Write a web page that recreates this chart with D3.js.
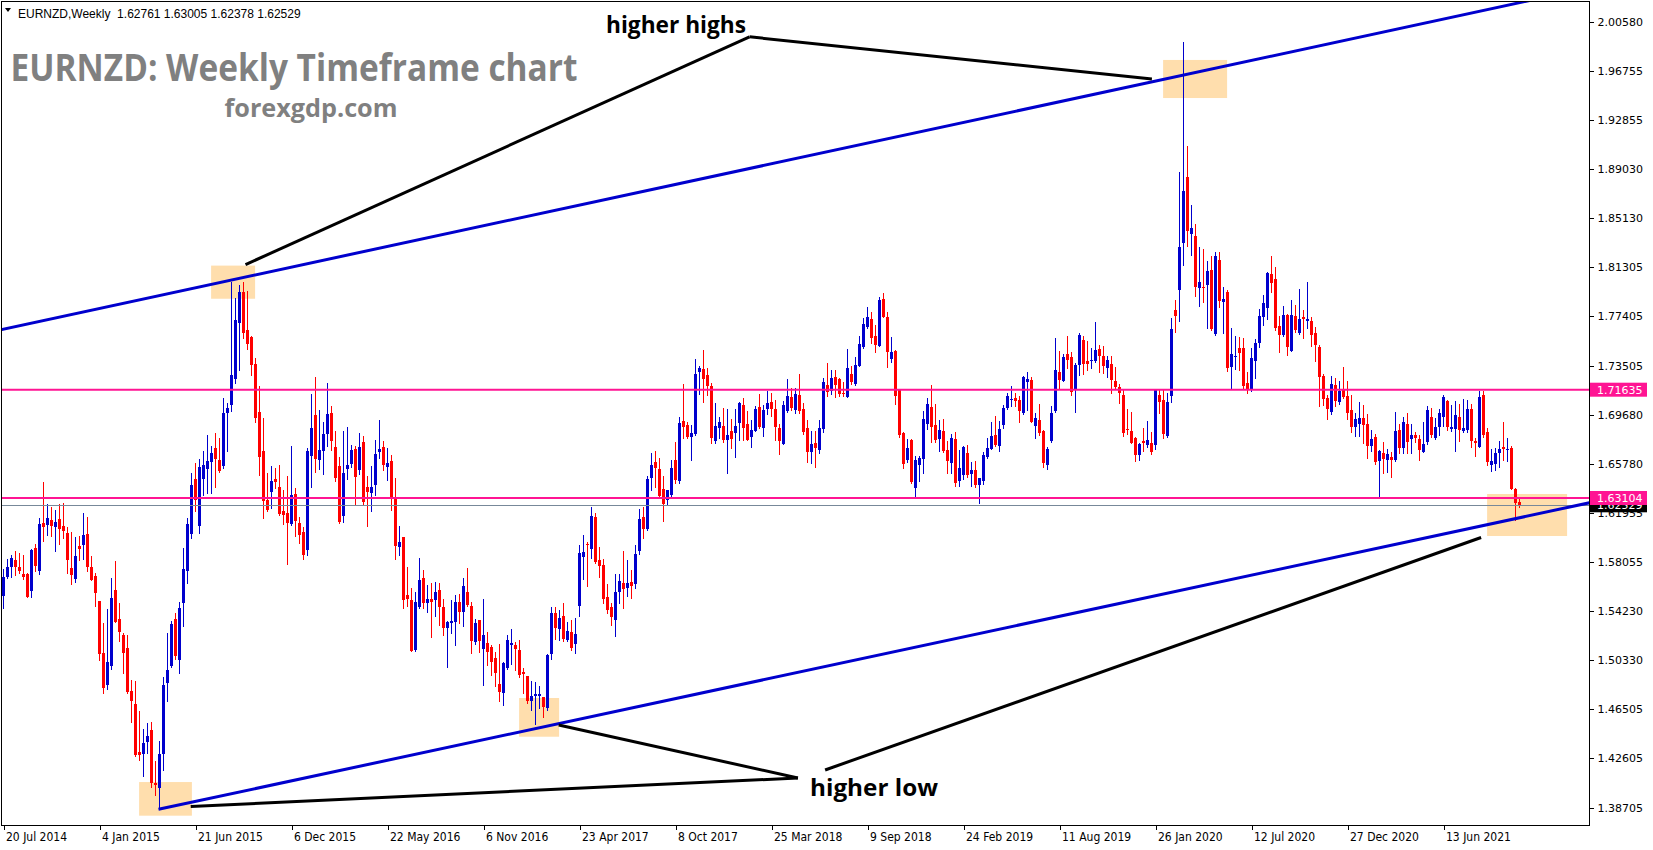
<!DOCTYPE html>
<html><head><meta charset="utf-8">
<script src="https://cdn.jsdelivr.net/npm/d3@7"></script>
<style>html,body{margin:0;padding:0;background:#fff;overflow:hidden}</style>
</head><body>
<svg id="chart" width="1653" height="850"></svg>
<script>
// ---------------- DATA ----------------
const symbolName = "EURNZD,Weekly";
const startDate = "2014-07-20";
const openP = [
1.5533,1.5691,1.5770,1.5822,1.5767,1.5712,1.5712,1.5580,1.5914,1.5738,
1.6116,1.6100,1.6137,1.6079,1.6142,1.6090,1.6037,1.5759,1.5672,1.5932,
1.5940,1.6027,1.5767,1.5696,1.5499,1.5089,1.4837,1.4987,1.5586,1.5357,
1.5234,1.5129,1.4790,1.4688,1.4310,1.4294,1.4388,1.4483,1.4068,1.4029,
1.4294,1.4856,1.4987,1.5354,1.5029,1.5486,1.5738,1.6026,1.6457,1.6084,
1.6460,1.6538,1.6596,1.6704,1.6607,1.6557,1.6982,1.7043,1.7250,1.7691,
1.7933,1.7633,1.7578,1.7366,1.6987,1.6680,1.6294,1.6360,1.6460,1.6397,
1.6208,1.6189,1.6105,1.6342,1.6111,1.6042,1.5900,1.6641,1.6964,1.6609,
1.6680,1.6817,1.6980,1.6712,1.6562,1.6171,1.6541,1.6581,1.6699,1.6536,
1.6751,1.6397,1.6352,1.6415,1.6675,1.6712,1.6557,1.6602,1.6308,1.5927,
1.6003,1.5546,1.5507,1.5113,1.5454,1.5680,1.5483,1.5515,1.5510,1.5586,
1.5452,1.5286,1.5326,1.5334,1.5491,1.5412,1.5570,1.5462,1.5176,1.5349,
1.5121,1.5168,1.5137,1.5050,1.4845,1.4774,1.4971,1.5152,1.5152,1.5113,
1.4940,1.4908,1.4714,1.4750,1.4750,1.4743,1.4653,1.5081,1.5402,1.5281,
1.5378,1.5192,1.5252,1.5155,1.5454,1.5848,1.5948,1.5908,1.6163,1.5822,
1.5782,1.5528,1.5449,1.5349,1.5570,1.5641,1.5601,1.5649,1.5633,1.5893,
1.6158,1.6066,1.6470,1.6594,1.6539,1.6381,1.6294,1.6334,1.6610,1.6447,
1.6919,1.6886,1.6794,1.6818,1.7303,1.7327,1.7280,1.7193,1.6762,1.6865,
1.6878,1.6770,1.6839,1.6825,1.6904,1.7043,1.6894,1.6794,1.6841,1.7028,
1.6865,1.7012,1.7067,1.7012,1.6862,1.6739,1.6996,1.7106,1.7004,1.7122,
1.7012,1.6862,1.6676,1.6747,1.6692,1.6857,1.7201,1.7154,1.7264,1.7248,
1.7138,1.7109,1.7288,1.7209,1.7353,1.7500,1.7658,1.7721,1.7587,1.7511,
1.7878,1.7739,1.7406,1.7471,1.7162,1.6825,1.6610,1.6770,1.6392,1.6571,
1.6621,1.6894,1.7028,1.6886,1.6776,1.6839,1.6689,1.6589,1.6776,1.6445,
1.6495,1.6665,1.6500,1.6531,1.6416,1.6445,1.6636,1.6699,1.6807,1.6723,
1.6886,1.7020,1.7088,1.7101,1.7083,1.6983,1.7227,1.7240,1.6880,1.6925,
1.6838,1.6565,1.6754,1.6996,1.7303,1.7232,1.7445,1.7421,1.7161,1.7356,
1.7555,1.7390,1.7390,1.7390,1.7484,1.7429,1.7337,1.7366,1.7232,1.7185,
1.7122,1.6857,1.6838,1.6786,1.6652,1.6760,1.6731,1.6741,1.6731,1.7122,
1.7082,1.6799,1.7114,1.7791,1.7949,1.8322,1.8839,1.8390,1.8374,1.7964,
1.7975,1.7988,1.8106,1.7602,1.8185,1.7857,1.7933,1.7345,1.7424,1.7492,
1.7492,1.7216,1.7161,1.7392,1.7534,1.7739,1.7810,1.8075,1.8035,1.7665,
1.7594,1.7752,1.7471,1.7744,1.7613,1.7736,1.7707,1.7707,1.7610,1.7500,
1.7271,1.7098,1.6990,1.7200,1.7069,1.7169,1.7116,1.7003,1.6872,1.6896,
1.6940,1.6894,1.6720,1.6794,1.6597,1.6665,1.6610,1.6631,1.6610,1.6846,
1.6705,1.6894,1.6775,1.6804,1.6773,1.6676,1.6754,1.6949,1.6786,1.6870,
1.6951,1.7075,1.6854,1.6854,1.6949,1.6839,1.6846,1.7014,1.6762,1.6715,
1.7122,1.6831,1.6573,1.6581,1.6665,1.6712,1.6694,1.6707,1.6384,1.62761
];
const highP = [
1.5751,1.5827,1.5861,1.5893,1.5875,1.5861,1.5720,1.5909,1.5948,1.6150,
1.6434,1.6263,1.6237,1.6216,1.6263,1.6268,1.6085,1.6043,1.6003,1.6008,
1.6195,1.6161,1.5854,1.5722,1.5499,1.5323,1.5439,1.5680,1.5814,1.5483,
1.5244,1.5234,1.4874,1.4869,1.4633,1.4491,1.4541,1.4543,1.4239,1.4396,
1.4900,1.5250,1.5344,1.5407,1.5493,1.5919,1.6155,1.6510,1.6588,1.6615,
1.6680,1.6809,1.6720,1.6822,1.6785,1.7098,1.7061,1.8014,1.7888,1.7990,
1.8009,1.7941,1.7589,1.7413,1.7192,1.6943,1.6510,1.6565,1.6546,1.6570,
1.6373,1.6483,1.6720,1.6389,1.6160,1.6082,1.6704,1.7129,1.7263,1.7003,
1.6909,1.7216,1.7035,1.6838,1.6630,1.6838,1.6870,1.6728,1.6720,1.6820,
1.6799,1.6484,1.6562,1.6767,1.6925,1.6759,1.6707,1.6649,1.6465,1.6090,
1.6003,1.5767,1.5601,1.5570,1.5840,1.5743,1.5625,1.5641,1.5649,1.5641,
1.5515,1.5344,1.5507,1.5546,1.5554,1.5680,1.5759,1.5491,1.5357,1.5349,
1.5515,1.5255,1.5152,1.5100,1.5160,1.5019,1.5231,1.5278,1.5176,1.5192,
1.4969,1.4908,1.4869,1.4863,1.4829,1.4743,1.5084,1.5449,1.5449,1.5428,
1.5483,1.5333,1.5349,1.5365,1.5940,1.6019,1.5966,1.6237,1.6190,1.5922,
1.5830,1.5633,1.5481,1.5712,1.5712,1.5893,1.5822,1.5743,1.5940,1.6224,
1.6239,1.6483,1.6665,1.6680,1.6623,1.6483,1.6373,1.6610,1.6751,1.6951,
1.7211,1.6912,1.6886,1.7406,1.7351,1.7477,1.7332,1.7214,1.7059,1.6949,
1.7020,1.7012,1.6933,1.7012,1.7067,1.7101,1.6996,1.6925,1.7038,1.7130,
1.7043,1.7154,1.7138,1.7083,1.6894,1.7075,1.7248,1.7177,1.7177,1.7288,
1.7059,1.6925,1.6841,1.6841,1.6925,1.7256,1.7374,1.7319,1.7319,1.7256,
1.7225,1.7484,1.7351,1.7421,1.7587,1.7726,1.7818,1.7776,1.7673,1.7897,
1.7926,1.7776,1.7579,1.7477,1.7162,1.6833,1.6775,1.6775,1.6642,1.6642,
1.6999,1.7101,1.7201,1.7051,1.6928,1.6933,1.6762,1.6815,1.6831,1.6689,
1.6723,1.6728,1.6597,1.6602,1.6468,1.6676,1.6786,1.6909,1.6959,1.6917,
1.7043,1.7138,1.7196,1.7141,1.7114,1.7272,1.7306,1.7266,1.6977,1.7051,
1.6846,1.6715,1.7035,1.7571,1.7468,1.7445,1.7587,1.7461,1.7371,1.7610,
1.7587,1.7547,1.7492,1.7697,1.7513,1.7508,1.7426,1.7429,1.7342,1.7209,
1.7161,1.7014,1.6991,1.6794,1.6746,1.6865,1.6920,1.6833,1.7161,1.7161,
1.7161,1.7140,1.7728,1.7870,1.8878,1.9902,1.9083,1.8619,1.8469,1.8287,
1.8272,1.8177,1.8216,1.8248,1.8248,1.7972,1.7949,1.7649,1.7586,1.7578,
1.7571,1.7303,1.7492,1.7563,1.7799,1.7909,1.8090,1.8216,1.8130,1.7744,
1.7823,1.7762,1.7870,1.7830,1.7957,1.7791,1.8012,1.7736,1.7657,1.7515,
1.7287,1.7122,1.7271,1.7255,1.7232,1.7342,1.7232,1.7122,1.6980,1.7066,
1.7043,1.6970,1.6846,1.6812,1.6689,1.6752,1.6697,1.6670,1.6988,1.6894,
1.6949,1.6978,1.6891,1.6831,1.6807,1.6907,1.7033,1.7020,1.6944,1.7009,
1.7119,1.7083,1.7043,1.7075,1.7051,1.7091,1.7083,1.7051,1.6783,1.7154,
1.7154,1.6862,1.6699,1.6705,1.6762,1.6909,1.6783,1.6720,1.6390,1.63005
];
const lowP = [
1.5447,1.5683,1.5691,1.5704,1.5722,1.5675,1.5530,1.5533,1.5738,1.5712,
1.5974,1.6022,1.6014,1.5893,1.5948,1.5998,1.5722,1.5633,1.5651,1.5825,
1.5827,1.5735,1.5665,1.5460,1.5034,1.4777,1.4806,1.4963,1.5334,1.5184,
1.4932,1.4777,1.4546,1.4278,1.4247,1.4121,1.4299,1.4037,1.3971,1.3874,
1.4168,1.4714,1.4982,1.5039,1.4929,1.5304,1.5643,1.5998,1.6210,1.6032,
1.6336,1.6352,1.6352,1.6399,1.6515,1.6549,1.6683,1.6998,1.7219,1.7321,
1.7573,1.7486,1.7282,1.6906,1.6494,1.6152,1.6210,1.6234,1.6386,1.6176,
1.6105,1.5790,1.6097,1.6013,1.5958,1.5832,1.5861,1.6399,1.6518,1.6536,
1.6502,1.6722,1.6691,1.6447,1.6111,1.6124,1.6463,1.6557,1.6255,1.6502,
1.6255,1.6090,1.6211,1.6334,1.6628,1.6534,1.6452,1.6216,1.5830,1.5861,
1.5444,1.5462,1.5105,1.5105,1.5447,1.5441,1.5415,1.5215,1.5383,1.5310,
1.5231,1.4981,1.5247,1.5152,1.5326,1.5302,1.5462,1.5089,1.5160,1.5097,
1.4837,1.4994,1.4916,1.4829,1.4711,1.4680,1.4963,1.5003,1.4955,1.4903,
1.4772,1.4693,1.4640,1.4530,1.4656,1.4588,1.4640,1.5042,1.5202,1.5192,
1.5184,1.5186,1.5113,1.5092,1.5381,1.5672,1.5620,1.5835,1.5796,1.5688,
1.5481,1.5402,1.5310,1.5223,1.5486,1.5446,1.5538,1.5525,1.5601,1.5869,
1.5993,1.6058,1.6373,1.6397,1.6321,1.6132,1.6263,1.6308,1.6426,1.6431,
1.6785,1.6783,1.6610,1.6810,1.7127,1.7070,1.7122,1.6747,1.6741,1.6781,
1.6755,1.6510,1.6707,1.6636,1.6770,1.6768,1.6770,1.6715,1.6835,1.6862,
1.6802,1.6972,1.6957,1.6768,1.6660,1.6735,1.6988,1.7004,1.6983,1.6983,
1.6815,1.6597,1.6589,1.6558,1.6668,1.6833,1.7114,1.7130,1.7109,1.7114,
1.7114,1.7105,1.7209,1.7201,1.7351,1.7492,1.7650,1.7529,1.7463,1.7508,
1.7739,1.7345,1.7385,1.7054,1.6794,1.6550,1.6597,1.6432,1.6321,1.6445,
1.6510,1.6854,1.6755,1.6752,1.6678,1.6676,1.6510,1.6510,1.6405,1.6408,
1.6458,1.6479,1.6408,1.6400,1.6274,1.6424,1.6628,1.6697,1.6720,1.6684,
1.6862,1.7012,1.7035,1.7035,1.6907,1.6975,1.7004,1.6907,1.6786,1.6807,
1.6552,1.6536,1.6754,1.6985,1.7177,1.7230,1.7337,1.7125,1.6988,1.7282,
1.7290,1.7319,1.7335,1.7385,1.7303,1.7293,1.7266,1.7140,1.7177,1.7061,
1.6801,1.6817,1.6746,1.6605,1.6610,1.6683,1.6715,1.6657,1.6694,1.6977,
1.6781,1.6794,1.7069,1.7621,1.7707,1.8146,1.8295,1.8225,1.7904,1.7825,
1.7857,1.7652,1.7634,1.7594,1.7817,1.7613,1.7313,1.7179,1.7326,1.7321,
1.7179,1.7140,1.7155,1.7258,1.7502,1.7673,1.7720,1.7933,1.7636,1.7463,
1.7589,1.7439,1.7465,1.7615,1.7605,1.7573,1.7652,1.7510,1.7392,1.7037,
1.7045,1.6935,1.6975,1.7037,1.7051,1.7101,1.6935,1.6833,1.6801,1.6801,
1.6746,1.6628,1.6684,1.6579,1.6319,1.6510,1.6516,1.6479,1.6605,1.6663,
1.6663,1.6663,1.6668,1.6754,1.6610,1.6673,1.6736,1.6794,1.6775,1.6807,
1.6878,1.6846,1.6841,1.6684,1.6762,1.6831,1.6831,1.6712,1.6642,1.6710,
1.6791,1.6573,1.6526,1.6531,1.6555,1.6610,1.6605,1.6384,1.6137,1.62378
];
const closeP = [
1.5686,1.5767,1.5838,1.5770,1.5738,1.5688,1.5533,1.5901,1.5770,1.6106,
1.6085,1.6153,1.6093,1.6121,1.6064,1.6051,1.5822,1.5707,1.5854,1.5909,
1.6019,1.5770,1.5665,1.5565,1.5084,1.4816,1.5019,1.5523,1.5334,1.5252,
1.5092,1.4782,1.4711,1.4283,1.4286,1.4378,1.4436,1.4063,1.4050,1.4294,
1.4837,1.4956,1.5318,1.5060,1.5441,1.5751,1.6105,1.6412,1.6289,1.6552,
1.6567,1.6601,1.6667,1.6617,1.6520,1.6977,1.7019,1.7279,1.7712,1.7933,
1.7612,1.7523,1.7360,1.6943,1.6633,1.6289,1.6215,1.6444,1.6436,1.6184,
1.6179,1.6108,1.6334,1.6132,1.6013,1.5861,1.6678,1.6861,1.6620,1.6688,
1.6814,1.6972,1.6762,1.6470,1.6124,1.6510,1.6573,1.6688,1.6478,1.6715,
1.6281,1.6358,1.6397,1.6657,1.6696,1.6570,1.6589,1.6313,1.5932,1.5964,
1.5507,1.5515,1.5105,1.5491,1.5664,1.5483,1.5515,1.5491,1.5570,1.5452,
1.5286,1.5334,1.5341,1.5491,1.5412,1.5617,1.5470,1.5184,1.5326,1.5184,
1.5231,1.5100,1.5019,1.4932,1.4782,1.5011,1.5192,1.5168,1.5121,1.4916,
1.4924,1.4714,1.4750,1.4766,1.4766,1.4667,1.5073,1.5402,1.5286,1.5365,
1.5200,1.5260,1.5126,1.5236,1.5874,1.5885,1.5937,1.6168,1.5809,1.5775,
1.5515,1.5428,1.5370,1.5570,1.5656,1.5593,1.5641,1.5617,1.5869,1.6145,
1.6066,1.6460,1.6570,1.6546,1.6326,1.6263,1.6373,1.6544,1.6452,1.6904,
1.6872,1.6794,1.6823,1.7288,1.7335,1.7248,1.7193,1.6786,1.6878,1.6909,
1.6770,1.6807,1.6778,1.6878,1.7059,1.6865,1.6770,1.6846,1.7012,1.6873,
1.7004,1.7059,1.7015,1.6873,1.6762,1.7043,1.7114,1.7022,1.7130,1.6996,
1.6831,1.6676,1.6739,1.6707,1.6862,1.7225,1.7148,1.7256,1.7201,1.7130,
1.7130,1.7335,1.7225,1.7358,1.7524,1.7681,1.7737,1.7574,1.7516,1.7870,
1.7739,1.7461,1.7463,1.7117,1.6807,1.6581,1.6705,1.6437,1.6613,1.6626,
1.6933,1.7049,1.6873,1.6768,1.6846,1.6681,1.6602,1.6783,1.6432,1.6547,
1.6715,1.6492,1.6531,1.6416,1.6468,1.6650,1.6707,1.6802,1.6726,1.6854,
1.7020,1.7117,1.7093,1.7075,1.6999,1.7264,1.7248,1.6912,1.6943,1.6820,
1.6583,1.6694,1.6977,1.7319,1.7240,1.7421,1.7398,1.7143,1.7358,1.7594,
1.7369,1.7369,1.7398,1.7476,1.7429,1.7350,1.7398,1.7240,1.7185,1.7135,
1.6825,1.6849,1.6746,1.6652,1.6736,1.6746,1.6767,1.6668,1.7161,1.7069,
1.6815,1.7067,1.7642,1.7747,1.8288,1.8729,1.8414,1.8437,1.7975,1.8012,
1.7967,1.8098,1.7641,1.8216,1.7862,1.7878,1.7334,1.7445,1.7429,1.7455,
1.7192,1.7164,1.7413,1.7531,1.7744,1.7846,1.8083,1.8006,1.7652,1.7594,
1.7752,1.7502,1.7752,1.7634,1.7720,1.7720,1.7720,1.7597,1.7518,1.7266,
1.7093,1.7014,1.7208,1.7077,1.7156,1.7108,1.6982,1.6872,1.6935,1.6940,
1.6888,1.6720,1.6775,1.6597,1.6678,1.6615,1.6657,1.6605,1.6836,1.6705,
1.6907,1.6754,1.6807,1.6778,1.6689,1.6736,1.7004,1.6807,1.6870,1.6983,
1.7106,1.6873,1.6870,1.6965,1.6849,1.6862,1.7012,1.6760,1.6747,1.7106,
1.6807,1.6594,1.6602,1.6665,1.6699,1.6697,1.6699,1.6384,1.6274,1.62529
];
const priceTicks = [2.00580,1.96755,1.92855,1.89030,1.85130,1.81305,1.77405,1.73505,1.69680,1.65780,1.61955,1.58055,1.54230,1.50330,1.46505,1.42605,1.38705];
const dateTickLabels = ["20 Jul 2014","4 Jan 2015","21 Jun 2015","6 Dec 2015","22 May 2016","6 Nov 2016","23 Apr 2017","8 Oct 2017","25 Mar 2018","9 Sep 2018","24 Feb 2019","11 Aug 2019","26 Jan 2020","12 Jul 2020","27 Dec 2020","13 Jun 2021"];
const levelPrices = [1.71635, 1.63104];
const bidPrice = 1.62529;
// annotation anchors in data space: [bar index, price]
const upperTrend = [[59, 1.8041], [295, 1.9642]];
const lowerTrend = [[38.75, 1.3858], [130, 1.4474]];
const zoneBars = [[51.9, 62.9], [289.9, 305.9], [33.9, 47.1], [128.9, 138.9], [370.9, 390.9]];
const zonePrices = [[1.8141, 1.7880], [1.9761, 1.9461], [1.4073, 1.3808], [1.4735, 1.4430], [1.6342, 1.6011]];
const pointerLines = [
  [[60.5, 1.8149], [186.5, 1.9943]],
  [[186.5, 1.9943], [287.1, 1.9611]],
  [[46.8, 1.3880], [198.6, 1.4105]],
  [[138.8, 1.4522], [198.6, 1.4105]],
  [[205.4, 1.4168], [369.4, 1.5999]]
];

// ---------------- CHART ----------------
const W = 1653, H = 850;
const plot = {left: 2, top: 2, right: 1589, bottom: 825};
const N = Math.min(openP.length, highP.length, lowP.length, closeP.length);
const BULL = "#0000CD", BEAR = "#FF0000";
const x = d3.scaleLinear().domain([0, 379]).range([3.5, 3.5 + 4 * 379]);
const y = d3.scaleLinear().domain([1.38705, 2.00580]).range([807.75, 22.24]);

const svg = d3.select("#chart");
svg.append("rect").attr("width", W).attr("height", H).attr("fill", "#fff");
svg.append("defs").append("clipPath").attr("id", "clip").append("rect")
  .attr("x", plot.left).attr("y", plot.top)
  .attr("width", plot.right - plot.left).attr("height", plot.bottom - plot.top);
const g = svg.append("g").attr("clip-path", "url(#clip)");

// zones
g.append("g").selectAll("rect").data(zoneBars).join("rect")
  .attr("x", d => x(d[0])).attr("width", d => x(d[1]) - x(d[0]))
  .attr("y", (d, k) => y(zonePrices[k][0]))
  .attr("height", (d, k) => y(zonePrices[k][1]) - y(zonePrices[k][0]))
  .attr("fill", "#FFDEAD");

// candles
const bars = d3.range(N).map(i => ({i, o: openP[i], h: highP[i], l: lowP[i], c: closeP[i]}));
const cg = g.append("g").attr("shape-rendering", "crispEdges");
cg.selectAll("line").data(bars).join("line")
  .attr("x1", d => x(d.i)).attr("x2", d => x(d.i))
  .attr("y1", d => Math.round(y(d.h))).attr("y2", d => Math.round(y(d.l)) + 1)
  .attr("stroke", d => d.c >= d.o ? BULL : BEAR).attr("stroke-width", 1);
cg.selectAll("rect").data(bars).join("rect")
  .attr("x", d => x(d.i) - 1.5).attr("width", 3)
  .attr("y", d => Math.round(Math.min(y(d.o), y(d.c))))
  .attr("height", d => Math.max(1, Math.round(Math.abs(y(d.o) - y(d.c)))))
  .attr("fill", d => d.c >= d.o ? BULL : BEAR);

// bid line
g.append("line").attr("x1", plot.left).attr("x2", plot.right)
  .attr("y1", Math.round(y(bidPrice)) + 0.5).attr("y2", Math.round(y(bidPrice)) + 0.5)
  .attr("stroke", "#778899").attr("stroke-width", 1);
// horizontal levels
g.selectAll("line.lvl").data(levelPrices).join("line").attr("class", "lvl")
  .attr("x1", plot.left).attr("x2", plot.right)
  .attr("y1", d => y(d)).attr("y2", d => y(d))
  .attr("stroke", "#FF1493").attr("stroke-width", 2);

// trend lines (extended)
function extend(pts, fromBar, toBar) {
  const [[b0, p0], [b1, p1]] = pts;
  const s = (p1 - p0) / (b1 - b0);
  return [[fromBar, p0 + (fromBar - b0) * s], [toBar, p0 + (toBar - b0) * s]];
}
const lineGen = d3.line().x(d => x(d[0])).y(d => y(d[1]));
g.append("path").attr("d", lineGen(extend(upperTrend, -5, 420)))
  .attr("stroke", BULL).attr("stroke-width", 3).attr("fill", "none");
g.append("path").attr("d", lineGen(extend(lowerTrend, lowerTrend[0][0], 420)))
  .attr("stroke", BULL).attr("stroke-width", 3).attr("fill", "none");

// pointer lines
g.selectAll("path.ptr").data(pointerLines).join("path").attr("class", "ptr")
  .attr("d", d => lineGen(d)).attr("stroke", "#000").attr("stroke-width", 3).attr("fill", "none");

// frame
svg.append("rect").attr("x", 1.5).attr("y", 1.5)
  .attr("width", plot.right - 1.5).attr("height", plot.bottom - 1.5 + 0.5)
  .attr("fill", "none").attr("stroke", "#000").attr("stroke-width", 1)
  .attr("shape-rendering", "crispEdges");

// bid tag (behind)
const tagW = 57, tagH = 14;
const bidTag = svg.append("g");
bidTag.append("rect").attr("x", plot.right + 1).attr("y", y(bidPrice) - tagH / 2)
  .attr("width", tagW).attr("height", tagH).attr("fill", "#000");
bidTag.append("text").attr("x", plot.right + 8).attr("y", y(bidPrice)).attr("dy", "0.36em")
  .attr("fill", "#fff").style("font", "11px 'DejaVu Sans', Verdana, sans-serif")
  .text(d3.format(".5f")(bidPrice));

// price axis
const yAxis = d3.axisRight(y).tickValues(priceTicks).tickSize(4).tickPadding(4)
  .tickFormat(d3.format(".5f"));
const ya = svg.append("g").attr("transform", `translate(${plot.right + 0.5},0)`).call(yAxis);
ya.select(".domain").remove();
ya.selectAll("line").attr("stroke", "#000").attr("shape-rendering", "crispEdges");
ya.selectAll("text").attr("fill", "#000").style("font", "11px 'DejaVu Sans', Verdana, sans-serif");

// level tags
const lt = svg.append("g").selectAll("g").data(levelPrices).join("g");
lt.append("rect").attr("x", plot.right + 1).attr("y", d => y(d) - tagH / 2)
  .attr("width", tagW).attr("height", tagH).attr("fill", "#FF1493");
lt.append("text").attr("x", plot.right + 8).attr("y", d => y(d)).attr("dy", "0.36em")
  .attr("fill", "#fff").style("font", "11px 'DejaVu Sans', Verdana, sans-serif")
  .text(d => d3.format(".5f")(d));

// date axis
const parseLbl = d3.timeParse("%d %b %Y");
const start = d3.timeParse("%Y-%m-%d")(startDate);
const tickIdx = dateTickLabels.map(s => Math.round((parseLbl(s) - start) / 6048e5));
const xAxis = d3.axisBottom(x).tickValues(tickIdx).tickSize(4).tickPadding(3)
  .tickFormat((d, k) => dateTickLabels[k]);
const xa = svg.append("g").attr("transform", `translate(0,${plot.bottom + 0.5})`).call(xAxis);
xa.select(".domain").remove();
xa.selectAll("line").attr("stroke", "#000").attr("shape-rendering", "crispEdges");
xa.selectAll("text").attr("fill", "#000").attr("text-anchor", "start").attr("dx", 2)
  .style("font", "12px 'Liberation Sans Narrow', 'DejaVu Sans Condensed', 'Liberation Sans', sans-serif");

// header
svg.append("path").attr("d", "M5,8 L11,8 L8,12 Z").attr("fill", "#000");
svg.append("text").attr("x", 18).attr("y", 18).style("white-space", "pre")
  .style("font", "12px 'Liberation Sans', Arial, sans-serif").attr("fill", "#000")
  .text(symbolName + "  " + [openP[N-1], highP[N-1], lowP[N-1], closeP[N-1]].map(d3.format(".5f")).join(" "));

// titles / annotations
const ann = svg.append("g").style("font-family", "'Open Sans', 'Noto Sans', sans-serif").style("font-weight", 700);
ann.append("text").attr("x", 10.5).attr("y", 81).attr("fill", "#808080").style("font-size", "38px")
  .attr("textLength", 567).attr("lengthAdjust", "spacingAndGlyphs").text("EURNZD: Weekly Timeframe chart");
ann.append("text").attr("x", 224.5).attr("y", 117).attr("fill", "#808080").style("font-size", "25px")
  .attr("textLength", 173).attr("lengthAdjust", "spacingAndGlyphs").text("forexgdp.com");
ann.append("text").attr("x", 606).attr("y", 33).attr("fill", "#000").style("font-size", "23px")
  .attr("textLength", 140).attr("lengthAdjust", "spacingAndGlyphs").text("higher highs");
ann.append("text").attr("x", 810).attr("y", 796).attr("fill", "#000").style("font-size", "23px")
  .attr("textLength", 128).attr("lengthAdjust", "spacingAndGlyphs").text("higher low");
</script>
</body></html>
